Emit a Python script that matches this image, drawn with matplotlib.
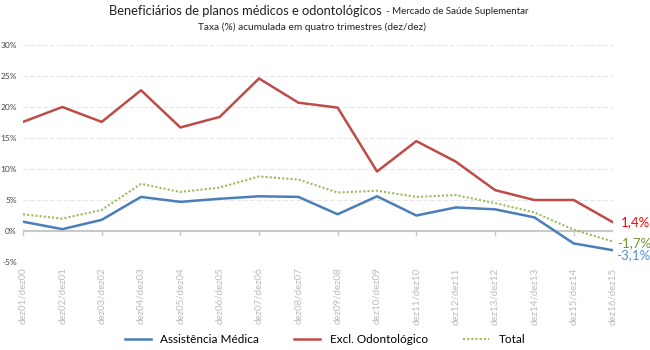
import numpy as np
import matplotlib.pyplot as plt
from matplotlib.ticker import FuncFormatter

plt.rcParams['font.family'] = ['Lato', 'DejaVu Sans']

periods = ["dez01/dez00", "dez02/dez01", "dez03/dez02", "dez04/dez03", "dez05/dez04",
           "dez06/dez05", "dez07/dez06", "dez08/dez07", "dez09/dez08", "dez10/dez09",
           "dez11/dez10", "dez12/dez11", "dez13/dez12", "dez14/dez13", "dez15/dez14",
           "dez16/dez15"]
assistencia = [1.5, 0.3, 1.8, 5.5, 4.7, 5.2, 5.6, 5.5, 2.7, 5.6, 2.5, 3.8, 3.5, 2.2, -2.0, -3.1]
odonto = [17.6, 20.0, 17.6, 22.7, 16.7, 18.4, 24.6, 20.7, 19.9, 9.6, 14.5, 11.2, 6.6, 5.0, 5.0, 1.4]
total = [2.7, 2.0, 3.4, 7.6, 6.3, 7.0, 8.8, 8.3, 6.2, 6.5, 5.5, 5.8, 4.5, 3.0, 0.2, -1.7]

end_labels = ["-3,1%", "1,4%", "-1,7%"]

fig = plt.figure(figsize=(6.5, 3.5), dpi=100)
ax = fig.add_axes([0.0354, 0.2514, 0.9077, 0.62])
x = np.arange(len(periods))

ax.plot(x, assistencia, color="#4A7EBB", lw=1.8, label="Assistência Médica")
ax.plot(x, odonto, color="#BE4B48", lw=1.8, label="Excl. Odontológico")
ax.plot(x, total, color="#9BBB59", lw=1.5, ls=(0, (1, 1)), label="Total")

ax.set_xlim(0, len(periods) - 1)
ax.set_ylim(-5, 30)
ax.set_yticks(np.arange(-5, 31, 5))
ax.yaxis.set_major_formatter(FuncFormatter(lambda v, p: f"{v:.0f}%"))
for yv in [-5, 5, 10, 15, 20, 25, 30]:
    ax.axhline(yv, color="#E6E6E6", lw=0.8, ls=(0, (4, 2)), zorder=0)
ax.axhline(0, color="#C8C8C8", lw=1.5, zorder=1)

ax.set_xticks(x)
ax.set_xticklabels(periods, rotation=90, fontsize=7, color="#BBBBBB")
ax.tick_params(axis='x', length=0, pad=4)
ax.tick_params(axis='y', length=0, labelsize=6, labelcolor="#444444", pad=4.5)
for s in ax.spines.values():
    s.set_visible(False)

# tick marks along the zero line
for xi in x[::2]:
    ax.plot([xi, xi], [0, -0.6], color="#C8C8C8", lw=1, clip_on=False)

ax.text(x[-1] + 0.08, assistencia[-1] - 0.8, end_labels[0], color="#558ED5", fontsize=9.5, va="center")
ax.text(x[-1] + 0.2, odonto[-1], end_labels[1], color="#FF0000", fontsize=9.5, va="center")
ax.text(x[-1] + 0.1, total[-1] - 0.3, end_labels[2], color="#77933C", fontsize=9.5, va="center")

fig.text(0.588, 0.968, "Beneficiários de planos médicos e odontológicos", fontsize=9.3,
         ha="right", va="center", color="#222222")
fig.text(0.594, 0.966, "- Mercado de Saúde Suplementar", fontsize=7,
         ha="left", va="center", color="#222222")
fig.text(0.48, 0.922, "Taxa (%) acumulada em quatro trimestres (dez/dez)", fontsize=7.3,
         ha="center", va="center", color="#222222")

fig.legend(loc="center", bbox_to_anchor=(0.5, 0.03), ncol=3, frameon=False,
           fontsize=8.5, handlelength=2.2, columnspacing=3)

fig.savefig("out.png", dpi=100)
